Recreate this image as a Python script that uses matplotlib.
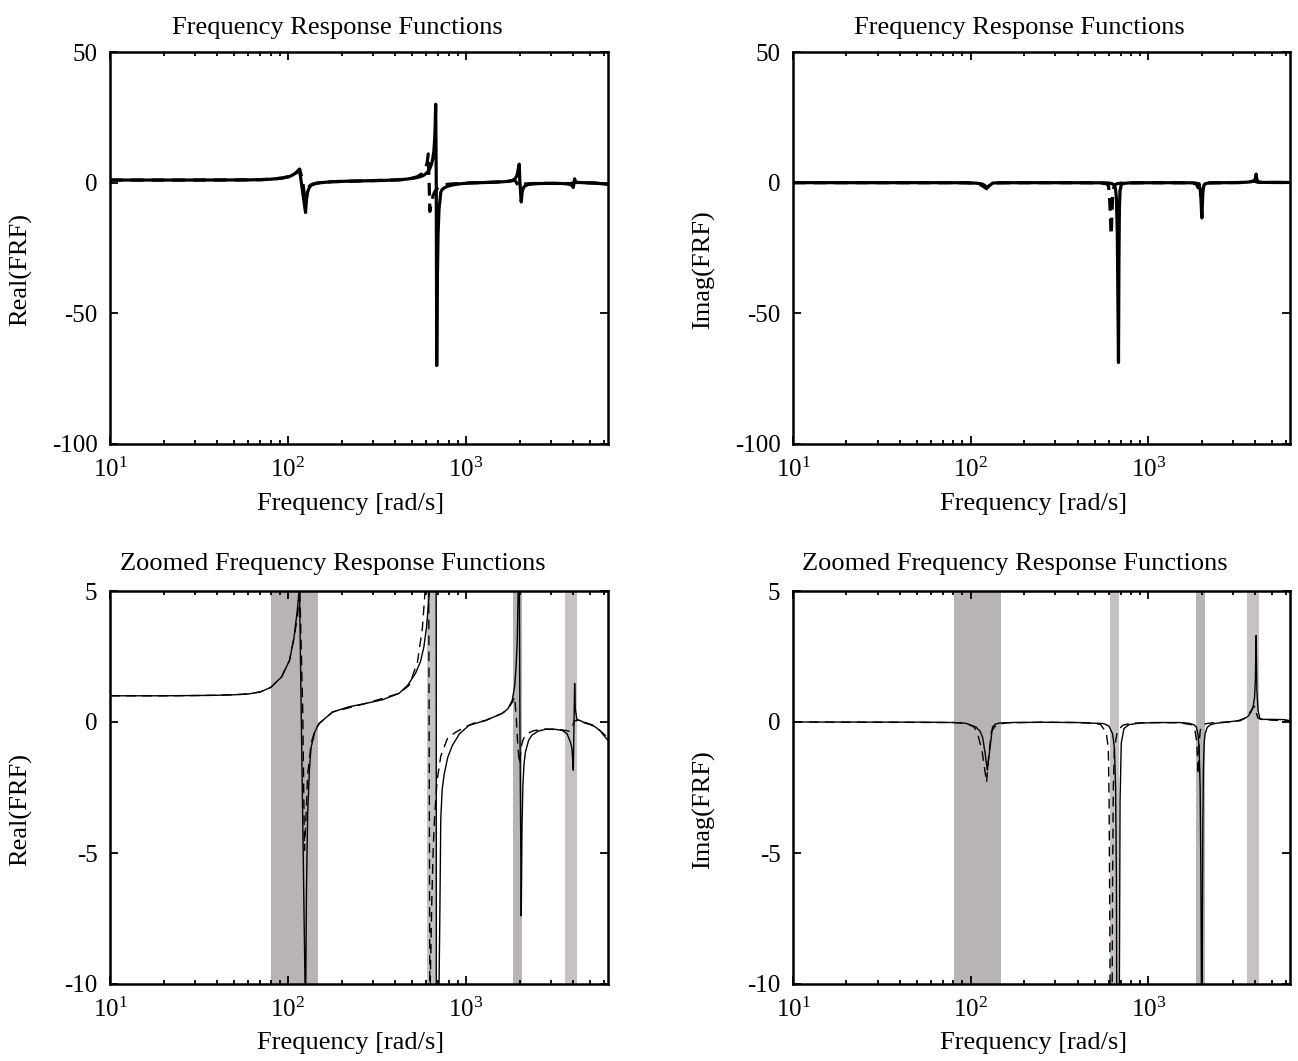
import matplotlib
matplotlib.use("Agg")
import matplotlib.pyplot as plt
from matplotlib.ticker import LogLocator, NullFormatter, FixedLocator

plt.rcParams["font.family"] = ["Liberation Serif", "DejaVu Serif"]
plt.rcParams["mathtext.fontset"] = "custom"
plt.rcParams["mathtext.rm"] = "Liberation Serif"
plt.rcParams["mathtext.it"] = "Liberation Serif:italic"
plt.rcParams["mathtext.bf"] = "Liberation Serif:bold"
plt.rcParams["axes.unicode_minus"] = False

# ---- measured FRF, real part (solid) ----
re_solid_f = [10, 20, 30, 40, 50, 60, 70, 80, 92, 102, 108, 113, 116, 125.5, 127, 129, 132, 135,
              142, 150, 178, 220, 274, 340, 420, 470, 520, 555, 580, 600, 615, 625, 640, 650, 660,
              665, 670, 673, 676, 681, 685, 690, 697, 706, 713, 722, 735, 753, 790, 838, 920, 1040,
              1290, 1600, 1720, 1820, 1880, 1910, 1940, 1960, 1980, 1992, 2010, 2045, 2065, 2090,
              2120, 2160, 2250, 2350, 2550, 2790, 3100, 3470, 3700, 3860, 3940, 3975, 4010, 4080,
              4115, 4200, 4400, 4690, 5000, 5340, 5700, 5940, 6283]
re_solid = [1.0, 1.0, 1.01, 1.02, 1.04, 1.07, 1.15, 1.32, 1.72, 2.35, 3.2, 4.3, 5.2, -11.4, -6.5,
            -3.5, -1.8, -0.95, -0.35, -0.05, 0.38, 0.58, 0.71, 0.85, 1.09, 1.4, 1.85, 2.3, 2.86, 3.6,
            4.45, 5.2, 7.0, 8.9, 12.0, 15.0, 19.5, 24.5, 30.0, 0.0, -70.0, -40.0, -20.0, -10.0, -7.5,
            -3.7, -2.6, -2.03, -1.35, -0.9, -0.45, -0.13, 0.06, 0.33, 0.5, 0.83, 1.4, 2.05, 3.0, 4.5,
            6.2, 7.1, 0.0, -7.4, -4.0, -2.4, -1.6, -1.14, -0.7, -0.5, -0.35, -0.28, -0.27, -0.32,
            -0.45, -0.76, -1.0, -1.4, -1.84, 1.47, 0.5, 0.1, 0.05, -0.05, -0.1, -0.19, -0.35, -0.51,
            -0.7]

# ---- model FRF, real part (dashed) ----
re_dash_f = [10, 20, 30, 40, 50, 60, 70, 80, 92, 102, 108, 113, 116.5, 121, 123.8, 126.5, 129, 135,
             142, 150, 178, 274, 420, 480, 534, 569, 587, 605, 614, 621, 627, 632, 642, 655, 666,
             679, 690, 722, 790, 880, 991, 1100, 1290, 1600, 1720, 1820, 1880, 1920, 1960, 2000,
             2050, 2100, 2200, 2400, 2800, 3470, 3800, 3950, 4050, 4300, 4700, 5300, 6283]
re_dash = [1.0, 1.0, 1.01, 1.02, 1.04, 1.07, 1.15, 1.32, 1.72, 2.35, 3.2, 4.0, 5.1, 0.5, -4.9, -3.5,
           -2.0, -0.8, -0.3, -0.05, 0.38, 0.71, 1.09, 1.4, 2.29, 3.57, 4.84, 7.5, 11.0, 0.0, -11.0,
           -9.5, -7.0, -4.8, -3.7, -2.8, -2.2, -1.3, -0.6, -0.38, -0.19, -0.05, 0.06, 0.33, 0.5,
           0.75, 0.95, 0.1, -1.0, -1.6, -0.9, -0.65, -0.45, -0.33, -0.27, -0.3, -0.35, -0.25, 0.05,
           0.06, -0.02, -0.15, -0.6]

# ---- measured FRF, imaginary part (solid) ----
im_solid_f = [10, 50, 80, 94, 107, 113, 117, 121, 124.2, 128, 132.8, 138, 145, 170, 250, 400, 560,
              600, 630, 645, 655, 662, 670, 676, 680, 684, 688, 694, 705, 730, 780, 900, 1200, 1500,
              1700, 1800, 1866, 1910, 1935, 1960, 1980, 1995, 2005, 2018, 2030, 2045, 2065, 2090,
              2150, 2250, 2400, 2800, 3200, 3475, 3650, 3790, 3900, 3970, 4010, 4050, 4090, 4150,
              4240, 4400, 5000, 5830, 6283]
im_solid = [0.0, -0.005, -0.02, -0.05, -0.19, -0.35, -0.6, -1.25, -1.84, -1.1, -0.19, -0.08, -0.04,
            -0.02, -0.01, -0.02, -0.06, -0.15, -0.45, -1.0, -2.5, -6.0, -20.0, -50.0, -68.8, -30.0,
            -10.0, -3.0, -0.8, -0.25, -0.1, -0.04, -0.02, -0.02, -0.05, -0.1, -0.19, -0.5, -1.08,
            -2.5, -6.0, -11.0, -13.5, -8.0, -4.0, -1.8, -0.8, -0.45, -0.2, -0.1, -0.05, 0.0, 0.05,
            0.13, 0.22, 0.38, 0.6, 0.95, 1.6, 3.3, 1.2, 0.45, 0.15, 0.1, 0.1, 0.09, 0.05]

# ---- model FRF, imaginary part (dashed) ----
im_dash_f = [10, 80, 95, 105, 110, 116, 120, 123, 126, 131, 140, 160, 250, 400, 500, 540, 580, 596,
             602, 608, 614, 619, 625, 630, 636, 645, 670, 720, 800, 1000, 1500, 1750, 1830, 1870,
             1895, 1910, 1930, 1960, 2000, 2100, 2300, 2800, 3300, 3600, 3850, 3970, 4050, 4150,
             4300, 5000, 6283]
im_dash = [0.0, -0.02, -0.05, -0.2, -0.5, -1.1, -1.8, -2.3, -1.4, -0.35, -0.1, -0.03, -0.01, -0.02,
           -0.05, -0.1, -0.4, -1.0, -3.0, -8.0, -15.0, -20.0, -12.0, -6.0, -2.5, -1.0, -0.35, -0.12,
           -0.05, -0.02, -0.03, -0.1, -0.3, -0.7, -1.4, -2.0, -1.0, -0.35, -0.15, -0.07, -0.03, 0.0,
           0.05, 0.2, 0.5, 0.6, 0.35, 0.15, 0.1, 0.07, 0.04]

# ---- frequency bands highlighted in the zoomed views ----
band_lo = [80.3, 608, 1850, 3620]
band_hi = [148, 686, 2075, 4230]
band_colors = ["#b9b4b4", "#c7c2c2", "#b9b4b4", "#c7c2c2"]

x_limits = [10, 6283]
ylim_full = [-100, 50]
yticks_full = [-100, -50, 0, 50]
ylim_zoom = [-10, 5]
yticks_zoom = [-10, -5, 0, 5]

titles = ["Frequency Response Functions", "Zoomed Frequency Response Functions"]
ylabels = ["Real(FRF)", "Imag(FRF)"]
xlabel = "Frequency [rad/s]"

W, H = 1298, 1061
fig = plt.figure(figsize=(W / 100, H / 100), dpi=100)

# axes boxes in pixels: left, top, right, bottom
boxes = {
    (0, 0): (110, 52, 608, 444),
    (0, 1): (793, 52, 1290, 444),
    (1, 0): (110, 591, 608, 984),
    (1, 1): (793, 591, 1290, 984),
}

FS_TXT = 19
FS_TICK = 18

def make_axes(box):
    l, t, r, b = box
    return fig.add_axes([l / W, 1 - b / H, (r - l) / W, (b - t) / H])

series = [
    (re_solid_f, re_solid, re_dash_f, re_dash),
    (im_solid_f, im_solid, im_dash_f, im_dash),
]

for row in range(2):
    for col in range(2):
        box = boxes[(row, col)]
        ax = make_axes(box)
        hpx = box[3] - box[1]
        wpx = box[2] - box[0]
        fs, vs, fd, vd = series[col]
        if row == 0:
            ax.plot(fs, vs, color="black", lw=2.3, zorder=3)
            ax.plot(fd, vd, color="black", lw=2.3, dashes=(4, 2.5), zorder=3)
            ax.set_ylim(ylim_full)
            ax.set_yticks(yticks_full)
            ax.text(0.456, 1 + 18 / hpx, titles[0], transform=ax.transAxes,
                    ha="center", va="baseline", fontsize=FS_TXT)
        else:
            for lo, hi, c in zip(band_lo, band_hi, band_colors):
                ax.axvspan(lo, hi, color=c, lw=0, zorder=1)
            ax.plot(fs, vs, color="black", lw=1.0, zorder=3)
            ax.plot(fd, vd, color="black", lw=1.0, dashes=(7, 4.5), zorder=3)
            ax.set_ylim(ylim_zoom)
            ax.set_yticks(yticks_zoom)
            ax.text(0.447, 1 + 21 / hpx, titles[1], transform=ax.transAxes,
                    ha="center", va="baseline", fontsize=FS_TXT)
        ax.set_xscale("log")
        ax.set_xlim(x_limits)
        ax.xaxis.set_major_locator(FixedLocator([10, 100, 1000]))
        ax.xaxis.set_minor_locator(LogLocator(base=10, subs=range(2, 10)))
        ax.xaxis.set_minor_formatter(NullFormatter())
        ax.set_yticklabels([str(v) for v in ax.get_yticks().astype(int)])
        ax.tick_params(which="both", direction="in", top=True, right=True,
                       labelsize=FS_TICK, width=1.3)
        ax.tick_params(which="major", length=6)
        ax.tick_params(axis="y", which="major", pad=9)
        ax.tick_params(axis="x", which="major", pad=10)
        ax.tick_params(which="minor", length=3)
        for s in ax.spines.values():
            s.set_linewidth(1.8)
        ax.set_xlabel(xlabel, fontsize=FS_TXT)
        ax.xaxis.set_label_coords(0.484, -(48 if row else 49) / hpx)
        ax.set_ylabel(ylabels[col], fontsize=FS_TXT)
        ax.yaxis.set_label_coords(-(110 - 32) / wpx, 0.444)

fig.savefig("out.png", dpi=100)
